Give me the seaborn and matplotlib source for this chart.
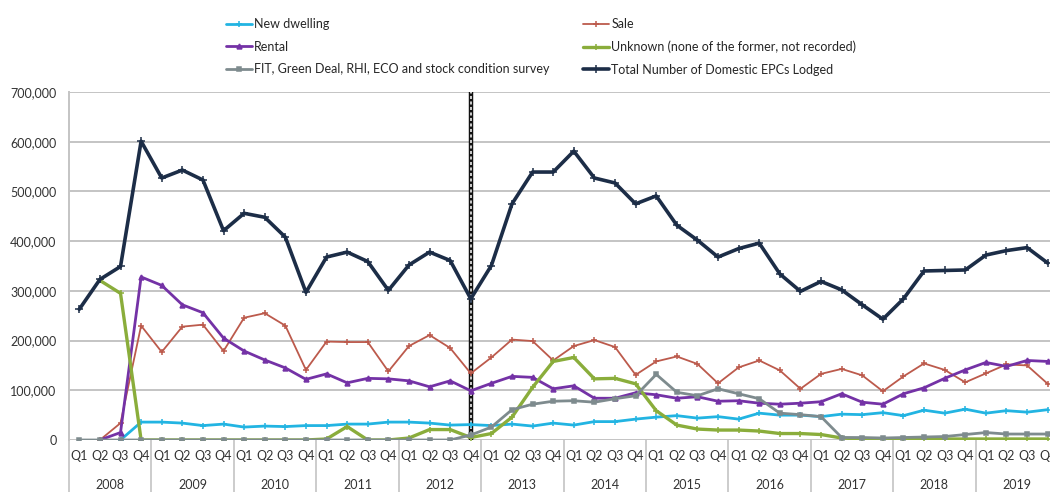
import matplotlib.pyplot as plt
import matplotlib.transforms as mtransforms
import numpy as np
import seaborn as sns
from matplotlib.ticker import FuncFormatter

nan = np.nan
years = [str(y) for y in range(2008, 2020)]
quarters = ['Q1', 'Q2', 'Q3', 'Q4']

# values in thousands, one per quarter 2008 Q1 .. 2019 Q4
new_dwelling = [nan, nan, 0, 36, 36, 34, 29, 32, 26, 28, 27, 29,
                29, 32, 32, 36, 36, 34, 30, 31, 29, 32, 28, 34,
                30, 37, 37, 42, 46, 49, 44, 47, 42, 54, 50, 50,
                47, 52, 51, 55, 49, 60, 54, 62, 54, 59, 56, 61]
sale = [nan, 0, 34, 230, 177, 228, 232, 179, 246, 255, 230, 141,
        198, 197, 197, 138, 189, 211, 185, 134, 166, 202, 199, 160,
        189, 201, 187, 131, 158, 168, 153, 114, 146, 160, 140, 103,
        133, 143, 130, 98, 128, 154, 141, 116, 134, 152, 150, 113]
rental = [nan, 0, 15, 328, 311, 272, 256, 205, 179, 161, 145, 122,
          133, 115, 124, 123, 119, 107, 119, 99, 114, 128, 126, 103,
          109, 84, 84, 95, 91, 84, 87, 78, 79, 74, 72, 74,
          77, 93, 76, 72, 93, 105, 124, 141, 156, 148, 160, 158]
unknown = [nan, 321, 295, 0, 0, 0, 0, 0, 0, 0, 0, 0,
           2, 27, 0, 0, 4, 21, 21, 5, 13, 46, 106, 158,
           166, 123, 124, 113, 59, 30, 22, 20, 20, 18, 13, 13,
           11, 4, 2, 2, 2, 2, 2, 2, 2, 2, 2, 2]
fit_survey = [0, 0, 0, 0, 0, 0, 0, 0, 0, 0, 0, 0,
              0, 0, 0, 0, 0, 0, 0, 10, 26, 61, 72, 78,
              79, 76, 83, 89, 132, 96, 89, 103, 93, 83, 54, 51,
              47, 5, 5, 4, 5, 6, 7, 11, 15, 12, 12, 12]
total = [263, 323, 349, 601, 527, 543, 523, 421, 456, 448, 408, 297,
         368, 378, 359, 301, 352, 378, 361, 284, 351, 475, 539, 539,
         581, 527, 517, 475, 491, 432, 402, 368, 385, 396, 334, 299,
         319, 302, 272, 243, 284, 340, 341, 342, 372, 381, 387, 356]

labels = [f'{y} {q}' for y in years for q in quarters]
x = np.arange(len(labels))

sns.set_theme(style='white')
plt.rcParams['font.family'] = ['Lato', 'DejaVu Sans']

fig = plt.figure(figsize=(10.5, 4.92), dpi=100)
ax = fig.add_axes([69 / 1050, 52 / 492, 989 / 1050, 348 / 492])

series = [
    ('New dwelling', new_dwelling, '#22b4e2', 2.0, '+', 5),
    ('Sale', sale, '#bc5a4c', 1.3, '+', 4),
    ('Rental', rental, '#7432a6', 2.0, '^', 3.5),
    ('Unknown (none of the former, not recorded)', unknown, '#8aad3b', 2.4, '+', 5),
    ('FIT, Green Deal, RHI, ECO and stock condition survey', fit_survey, '#7e8b8e', 2.0, 's', 3),
    ('Total Number of Domestic EPCs Lodged', total, '#1c2d47', 2.6, '+', 6),
]
for name, vals, color, lw, mk, ms in series:
    sns.lineplot(x=x, y=np.array(vals, dtype=float) * 1000, ax=ax, color=color, lw=lw,
                 marker=mk, markersize=ms, mew=1.1, mec=color, mfc=color,
                 label=name, errorbar=None, zorder=3)

# dashed divider at 2012 Q4
div = labels.index('2012 Q4')
ax.axvline(div, color='#111111', lw=3.2, zorder=2)
ax.axvline(div, color='white', lw=1.1, ls=(0, (2, 1.6)), zorder=2.1)

ax.set_xlim(-0.5, len(labels) - 0.5)
ax.set_ylim(0, 700000)
ax.set_yticks(range(0, 700001, 100000))
ax.yaxis.set_major_formatter(FuncFormatter(lambda v, p: f'{v:,.0f}'))
ax.set_xticks(x)
ax.set_xticklabels([q for y in years for q in quarters])
ax.tick_params(axis='x', length=0, pad=7, labelsize=9, labelcolor='#333333')
ax.tick_params(axis='y', length=0, pad=9, labelsize=9, labelcolor='#333333')
ax.yaxis.grid(True, color='#c4c4c4', lw=1.4)
ax.xaxis.grid(False)
ax.set_xlabel('')
ax.set_ylabel('')
for s in ['top', 'right', 'bottom']:
    ax.spines[s].set_visible(False)
ax.spines['left'].set_color('#c4c4c4')
ax.spines['left'].set_linewidth(1.4)

# year labels and separators below the axis
trans = mtransforms.blended_transform_factory(ax.transData, ax.transAxes)
for i, yr in enumerate(years):
    ax.text(4 * i + 1.5, -0.129, yr, transform=trans, ha='center', va='center',
            fontsize=9, color='#333333')
    ax.plot([4 * i - 0.5] * 2, [0, -0.16], transform=trans, color='#c4c4c4',
            lw=1.2, clip_on=False)

handles, labs = ax.get_legend_handles_labels()
ax.get_legend().remove()
order_left = [0, 2, 4]
order_right = [1, 3, 5]
for idx, xpos in [(order_left, 226), (order_right, 583)]:
    fig.legend([handles[i] for i in idx], [labs[i] for i in idx], loc='upper left',
               bbox_to_anchor=(xpos / 1050, 1 - 18 / 492), frameon=False, fontsize=9,
               handlelength=2.1, handletextpad=0.15, labelspacing=0.85,
               borderaxespad=0, borderpad=0)

fig.savefig('out.png', dpi=100)
